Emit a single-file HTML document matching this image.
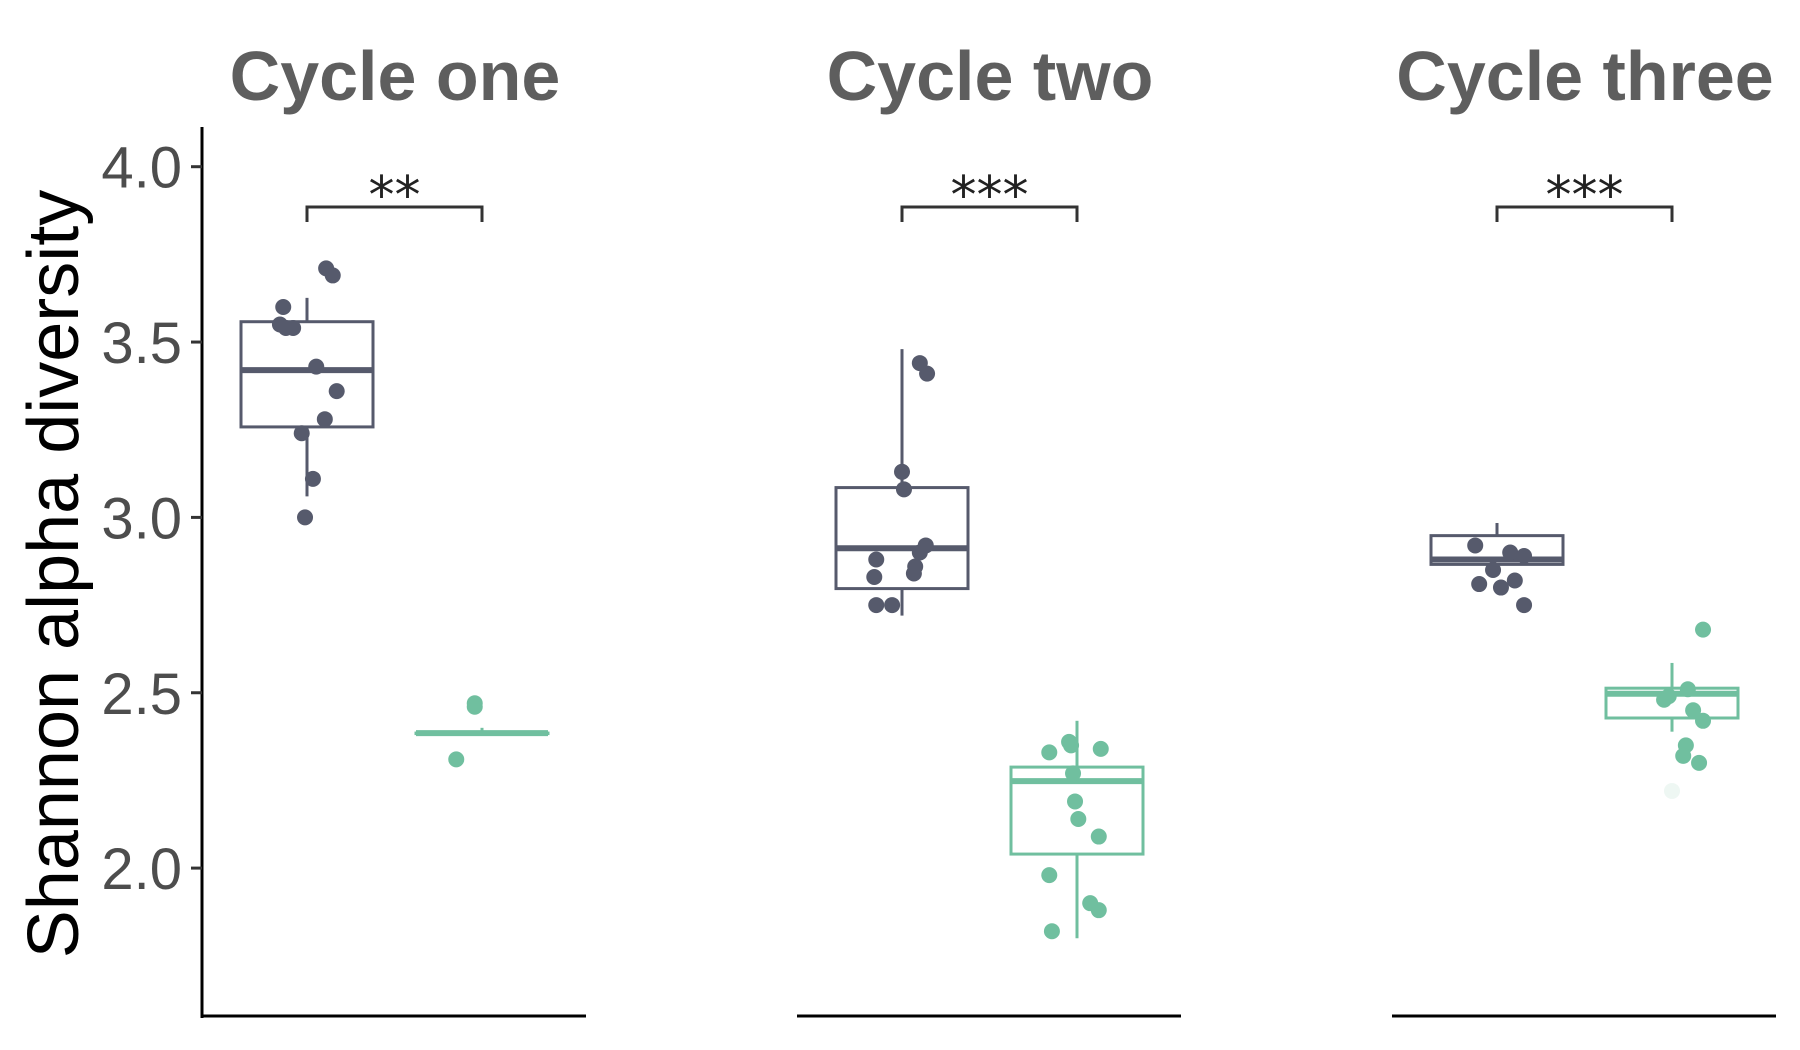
<!DOCTYPE html>
<html><head><meta charset="utf-8"><style>
html,body{margin:0;padding:0;background:#fff;}
svg{display:block;}
</style></head><body>
<svg id="chart" width="1800" height="1050" xmlns="http://www.w3.org/2000/svg" style="font-family:'Liberation Sans',sans-serif">
<rect width="1800" height="1050" fill="#fff"/>
</svg>
<script>
const panels = ["Cycle one","Cycle two","Cycle three"];
const sigLabels = ["**","***","***"];
const yTicks = [2.0,2.5,3.0,3.5,4.0];
const yTickLabels = ["2.0","2.5","3.0","3.5","4.0"];
// box stats per panel per group: [whiskerLow, q1, median, q3, whiskerHigh]
const statsA = [[3.06,3.258,3.42,3.558,3.626],[2.72,2.797,2.912,3.085,3.48],[2.865,2.866,2.88,2.948,2.984]];
const statsB = [[2.385,2.385,2.385,2.385,2.40],[1.80,2.04,2.248,2.288,2.42],[2.389,2.428,2.497,2.513,2.585]];
// point values
const ptsA = [
 [3.60,3.55,3.54,3.54,3.71,3.69,3.43,3.36,3.28,3.24,3.11,3.00],
 [3.44,3.41,3.13,3.08,2.92,2.90,2.88,2.86,2.84,2.83,2.75,2.75],
 [2.92,2.90,2.89,2.85,2.81,2.80,2.82,2.75]
];
const ptsB = [
 [2.47,2.46,2.31],
 [2.36,2.35,2.33,2.34,2.27,2.19,2.14,2.09,1.98,1.90,1.88,1.82],
 [2.68,2.51,2.48,2.49,2.45,2.42,2.35,2.32,2.30,2.22]
];
// jitter as fraction of box half-width
const jitA = [
 [-0.36,-0.41,-0.32,-0.21,0.29,0.39,0.14,0.45,0.27,-0.08,0.09,-0.03],
 [0.27,0.38,0.0,0.03,0.36,0.27,-0.39,0.20,0.18,-0.42,-0.39,-0.15],
 [-0.33,0.20,0.41,-0.06,-0.27,0.06,0.27,0.41]
];
const jitB = [
 [-0.11,-0.11,-0.39],
 [-0.12,-0.09,-0.42,0.36,-0.06,-0.03,0.02,0.33,-0.42,0.20,0.33,-0.38],
 [0.47,0.24,-0.12,-0.05,0.32,0.47,0.21,0.17,0.41,0.0]
];
const fadedB = [[false,false,false],[],[false,false,false,false,false,false,false,false,false,true]];
const sigY = 3.885;

const NS="http://www.w3.org/2000/svg";
const svg=document.getElementById('chart');
function el(tag,attrs,parent){const e=document.createElementNS(NS,tag);for(const k in attrs)e.setAttribute(k,attrs[k]);(parent||svg).appendChild(e);return e;}
const y=v=>166.7+(4-v)*350.7;
const panelX0=i=>202+i*595;
const grpX=(i,g)=>panelX0(i)+(g===0?105:280);
const halfW=66;
const colA="#565a6c", colB="#70bf9f";

// y axis
let ax=el('line',{x1:202,x2:202,y1:127,y2:1018,stroke:'#000','stroke-width':3});


yTicks.forEach((t,k)=>{
  const tk=el('line',{x1:191,x2:202,y1:y(t),y2:y(t),stroke:'#333','stroke-width':3});
  
  
  const tl=el('text',{x:182,y:y(t)+21,'text-anchor':'end','font-size':58,fill:'#4d4d4d'});
  tl.textContent=yTickLabels[k];
  
  
});
const yt=el('text',{x:0,y:0,'text-anchor':'middle','font-size':72,fill:'#000',transform:'translate(78,574) rotate(-90)'});
yt.textContent="Shannon alpha diversity";



function drawBox(i,g,st,col,pts,jit,faded){
  const cx=grpX(i,g);
  const grp=el('g',{});
  
  
  el('line',{x1:cx,x2:cx,y1:y(st[4]),y2:y(st[3]),stroke:col,'stroke-width':3},grp);
  el('line',{x1:cx,x2:cx,y1:y(st[1]),y2:y(st[0]),stroke:col,'stroke-width':3},grp);
  el('rect',{x:cx-halfW,y:y(st[3]),width:2*halfW,height:Math.max(0.5,y(st[1])-y(st[3])),fill:'none',stroke:col,'stroke-width':3},grp);
  el('line',{x1:cx-halfW,x2:cx+halfW,y1:y(st[2]),y2:y(st[2]),stroke:col,'stroke-width':6},grp);
  pts.forEach((v,k)=>{
    const f=faded&&faded[k];
    const c=el('circle',{cx:cx+jit[k]*halfW,cy:y(v),r:8,fill:col,'fill-opacity':f?0.12:1},grp);
    
    
  });
}
panels.forEach((p,i)=>{
  const x0=panelX0(i);
  const t=el('text',{x:x0+193,y:100,'text-anchor':'middle','font-size':70,'font-weight':'bold',fill:'#5e5e5e'});
  t.textContent=p;
  
  
  const b=el('line',{x1:x0,x2:x0+384,y1:1016,y2:1016,stroke:'#000','stroke-width':3});
  
  
  drawBox(i,0,statsA[i],colA,ptsA[i],jitA[i],null);
  drawBox(i,1,statsB[i],colB,ptsB[i],jitB[i],fadedB[i]);
  const xa=grpX(i,0), xb=grpX(i,1), yb=y(sigY);
  const br=el('path',{d:`M${xa},${yb+15} V${yb} H${xb} V${yb+15}`,fill:'none',stroke:'#333','stroke-width':3});
  
  
  const s=el('text',{x:(xa+xb)/2,y:yb+6,'text-anchor':'middle','font-size':52,fill:'#222','font-family':'DejaVu Sans, sans-serif'});
  s.textContent=sigLabels[i];
  
  
});
</script>
</body></html>
